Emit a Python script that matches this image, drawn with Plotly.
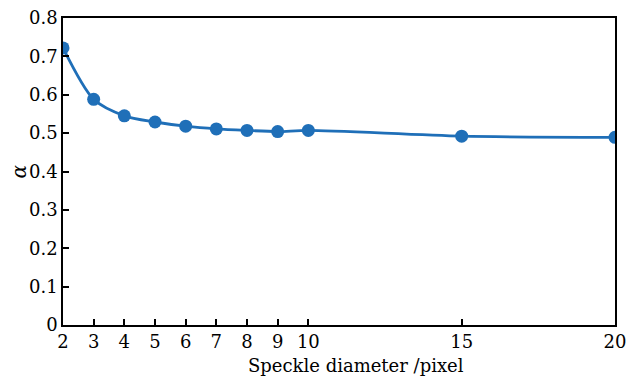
import plotly.graph_objects as go

diameter = [2, 3, 4, 5, 6, 7, 8, 9, 10, 15, 20]
alpha = [0.722, 0.588, 0.545, 0.529, 0.518, 0.511, 0.507, 0.504, 0.507, 0.492, 0.489]
x_ticks = [2, 3, 4, 5, 6, 7, 8, 9, 10, 15, 20]
y_ticks = [0, 0.1, 0.2, 0.3, 0.4, 0.5, 0.6, 0.7, 0.8]
y_tick_labels = ["0", "0.1", "0.2", "0.3", "0.4", "0.5", "0.6", "0.7", "0.8"]
x_title = "Speckle diameter /pixel"
y_title = "<i>α</i>"

color = "#1f6fb8"
font = "DejaVu Serif, Liberation Serif, serif"

fig = go.Figure()
fig.add_trace(go.Scatter(
    x=diameter, y=alpha, mode="lines+markers",
    line=dict(color=color, width=2.8, shape="spline", smoothing=0.8),
    marker=dict(color=color, size=13),
    showlegend=False,
))

axis_common = dict(
    showline=True, linecolor="black", linewidth=1.5, mirror=True,
    ticks="inside", tickcolor="black", tickwidth=1.5, ticklen=6,
    showgrid=False, zeroline=False, automargin=False,
    ticklabeloverflow="allow",
    tickfont=dict(family=font, size=18, color="black"),
)

fig.update_xaxes(
    range=[2, 20], tickmode="array", tickvals=x_ticks,
    ticktext=[str(v) for v in x_ticks],
    **axis_common,
)
fig.update_yaxes(
    range=[0, 0.8], tickmode="array", tickvals=y_ticks, ticktext=y_tick_labels,
    **axis_common,
)

fig.add_annotation(
    text=x_title, xref="paper", yref="paper", x=0.531, y=0, yshift=-40,
    showarrow=False, font=dict(family=font, size=18, color="black"),
    xanchor="center", yanchor="middle",
)
fig.add_annotation(
    text=y_title, xref="paper", yref="paper", x=0, y=0.5, xshift=-45,
    showarrow=False, textangle=-90, font=dict(family=font, size=20, color="black"),
    xanchor="center", yanchor="middle",
)

fig.update_layout(
    width=627, height=377,
    margin=dict(l=63, r=12, t=18, b=52),
    plot_bgcolor="white", paper_bgcolor="white",
    font=dict(family=font, color="black"),
)

fig.write_html(
    "out.html",
    config={"displayModeBar": False},
    post_script="document.body.style.margin='0';document.body.style.overflow='hidden';",
)
